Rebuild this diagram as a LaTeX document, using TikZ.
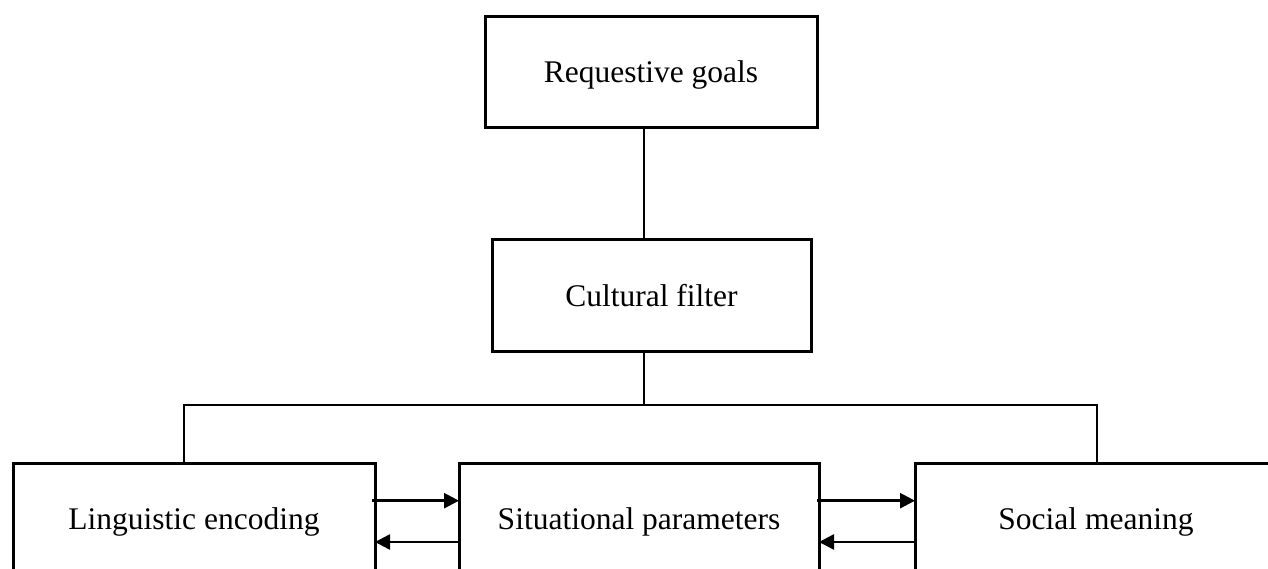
\documentclass[tikz,border=0pt]{standalone}
\usepackage{fontspec}
\setmainfont{Liberation Serif}
\usetikzlibrary{arrows.meta}
\begin{document}
\begin{tikzpicture}[x=1pt,y=-1pt,
  box/.style={draw, line width=3pt, rectangle, inner sep=0pt, outer sep=0pt,
    minimum height=111pt, text height=21pt, text depth=0pt,
    font=\fontsize{31.5}{36}\selectfont},
  link/.style={line width=2pt},
  arr/.style={line width=2.5pt, -{Triangle[length=15pt,width=15pt]}}]
\useasboundingbox (0,0) rectangle (1268,569);
\clip (0,0) rectangle (1268,569);
\node[box, minimum width=332pt] (top) at (651,72.5) {Requestive goals};
\node[box, minimum width=319pt] (cf) at (651.5,295.5) {Cultural filter};
\node[box, minimum width=362pt] (le) at (194,518.5) {Linguistic encoding};
\node[box, minimum width=360pt] (sp) at (639,518.5) {Situational parameters};
\node[box, minimum width=362pt] (sm) at (1096,518.5) {Social meaning};
\coordinate (trunk) at (644,405);
\coordinate (lj) at (184,405);
\coordinate (rj) at (1097,405);
\coordinate (au) at (0,500.7);
\coordinate (ad) at (0,542);
\draw[link] (top.south -| trunk) -- (cf.north -| trunk);
\draw[link] (cf.south -| trunk) -- (trunk);
\draw[link] (le.north -| lj) -- (lj) -- (rj) -- (sm.north -| rj);
\draw[arr] ([xshift=-3pt]le.east |- au) -- (sp.west |- au);
\draw[arr] (sp.west |- ad) -- (le.east |- ad);
\draw[arr] ([xshift=-2pt]sp.east |- au) -- (sm.west |- au);
\draw[arr] (sm.west |- ad) -- (sp.east |- ad);
\end{tikzpicture}
\end{document}
